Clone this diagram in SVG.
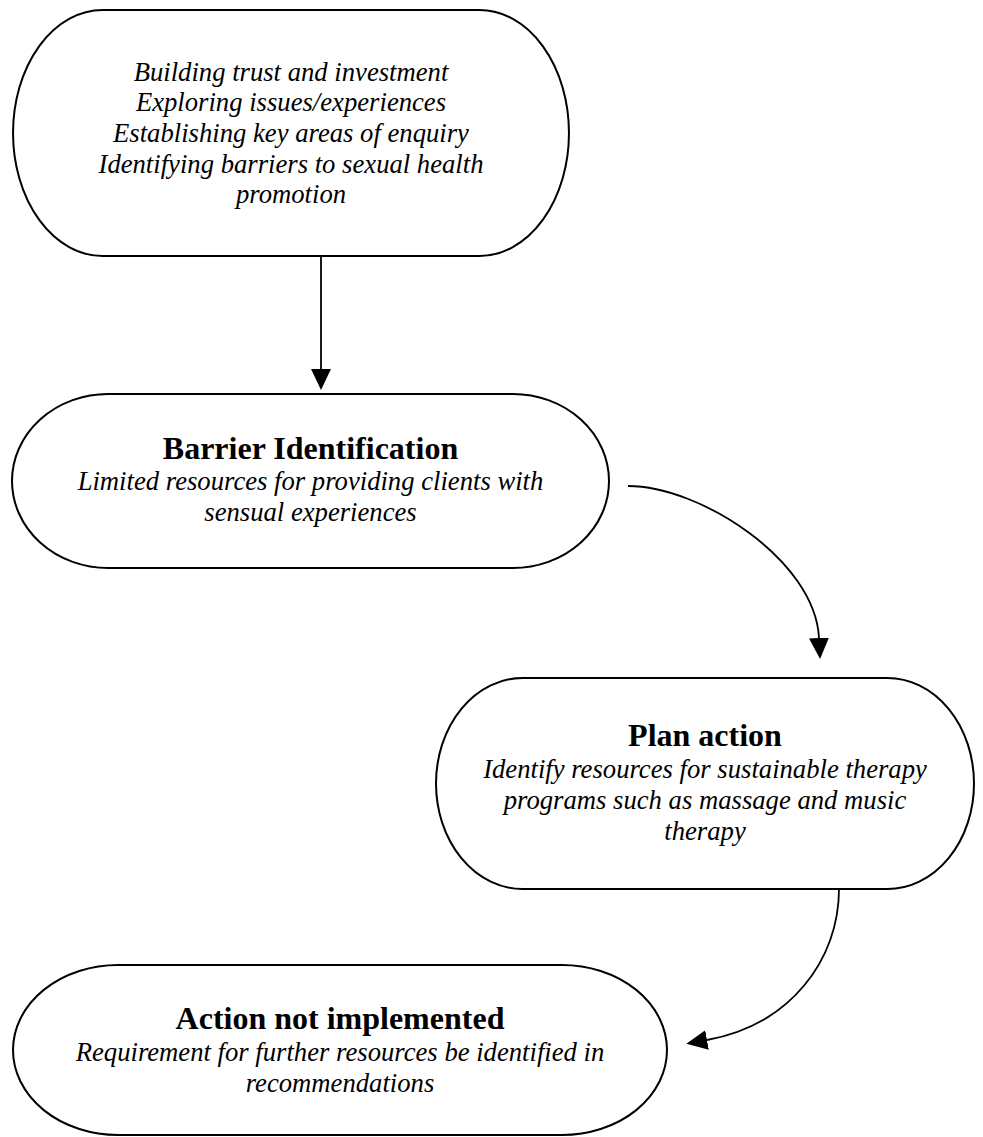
<svg xmlns="http://www.w3.org/2000/svg" width="983" height="1137" viewBox="0 0 983 1137">
  <style>
    .shape { fill: #ffffff; stroke: #000000; stroke-width: 2; }
    .link { fill: none; stroke: #000000; stroke-width: 1.8; }
    text { font-family: "Liberation Serif", "Times New Roman", serif; fill: #000000; text-anchor: middle; }
    .title { font-size: 32px; font-weight: bold; }
    .body { font-size: 26.67px; font-style: italic; }
  </style>
  <defs>
    <marker id="head" markerUnits="userSpaceOnUse" markerWidth="21" markerHeight="20" viewBox="0 0 21 20" refX="0" refY="10" orient="auto">
      <path d="M0,0 L21,10 L0,20 Z" fill="#000000"/>
    </marker>
  </defs>
  <rect width="983" height="1137" fill="#ffffff"/>

  <!-- connectors -->
  <g id="connectors">
    <path class="link" d="M321,256 V369" marker-end="url(#head)"/>
    <path class="link" d="M628,486 C700,486 815,560 819,638" marker-end="url(#head)"/>
    <path class="link" d="M839,889 C839,960 790,1025 707,1040" marker-end="url(#head)"/>
  </g>

  <!-- start: engagement -->
  <g id="node-engagement">
    <path class="shape" d="M102.5,10 H479.5 A89.5,123 0 0 1 479.5,256 H102.5 A89.5,123 0 0 1 102.5,10 Z"/>
    <text class="body" x="291" y="80.6">Building trust and investment</text>
    <text class="body" x="291" y="111.3">Exploring issues/experiences</text>
    <text class="body" x="291" y="142">Establishing key areas of enquiry</text>
    <text class="body" x="291" y="172.7">Identifying barriers to sexual health</text>
    <text class="body" x="291" y="203.4">promotion</text>
  </g>

  <!-- barrier identification -->
  <g id="node-barrier">
    <path class="shape" d="M108,394 H513 A96,87 0 0 1 513,568 H108 A96,87 0 0 1 108,394 Z"/>
    <text class="title" x="310.5" y="459">Barrier Identification</text>
    <text class="body" x="310.5" y="490">Limited resources for providing clients with</text>
    <text class="body" x="310.5" y="521">sensual experiences</text>
  </g>

  <!-- plan action -->
  <g id="node-plan">
    <path class="shape" d="M522.6,678 H887.4 A86.6,105.5 0 0 1 887.4,889 H522.6 A86.6,105.5 0 0 1 522.6,678 Z"/>
    <text class="title" x="705" y="746">Plan action</text>
    <text class="body" x="705" y="778">Identify resources for sustainable therapy</text>
    <text class="body" x="705" y="809">programs such as massage and music</text>
    <text class="body" x="705" y="840">therapy</text>
  </g>

  <!-- outcome -->
  <g id="node-outcome">
    <path class="shape" d="M118,965 H562 A105,85 0 0 1 562,1135 H118 A105,85 0 0 1 118,965 Z"/>
    <text class="title" x="340" y="1029">Action not implemented</text>
    <text class="body" x="340" y="1061">Requirement for further resources be identified in</text>
    <text class="body" x="340" y="1092">recommendations</text>
  </g>
</svg>
